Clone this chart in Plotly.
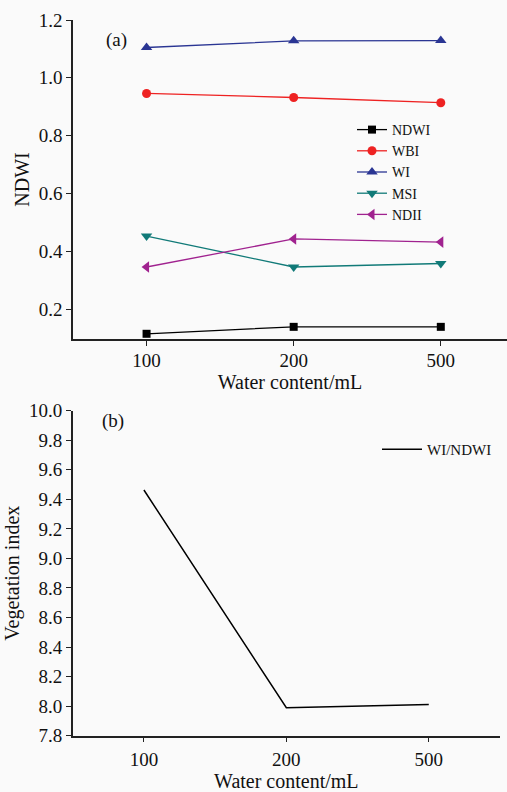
import plotly.graph_objects as go

categories = ["100", "200", "500"]
ndwi = [0.115, 0.139, 0.139]
wbi = [0.946, 0.932, 0.914]
wi = [1.105, 1.128, 1.129]
msi = [0.453, 0.346, 0.358]
ndii = [0.346, 0.443, 0.432]
wi_ndwi = [9.463, 7.989, 8.012]

W, H = 507, 792
def px(x):
    return x / W
def py(y):
    return 1 - y / H

FONT = "Liberation Serif, Times New Roman, serif"

fig = go.Figure()
series = [
    ("NDWI", ndwi, "#000000", "square", 8),
    ("WBI", wbi, "#ee2222", "circle", 9),
    ("WI", wi, "#2a3593", "triangle-up", 10),
    ("MSI", msi, "#117a78", "triangle-down", 10),
    ("NDII", ndii, "#a0228f", "triangle-left", 10),
]
for name, vals, col, sym, sz in series:
    fig.add_trace(go.Scatter(
        x=categories, y=vals, name=name, mode="lines+markers",
        line=dict(color=col, width=1.3),
        marker=dict(symbol=sym, size=sz, color=col),
        xaxis="x", yaxis="y", legend="legend"))

fig.add_trace(go.Scatter(
    x=categories, y=wi_ndwi, name="WI/NDWI", mode="lines",
    line=dict(color="#000000", width=1.5),
    xaxis="x2", yaxis="y2", legend="legend2"))

axis_common = dict(
    showline=True, linecolor="#222", linewidth=1.5, ticks="outside",
    ticklen=5, tickcolor="#222", tickwidth=1.2, showgrid=False, zeroline=False,
    automargin=False,
    tickfont=dict(family=FONT, size=19, color="#111"),
    title_font=dict(family=FONT, size=20, color="#111"), mirror=False)

fig.update_layout(
    width=W, height=H,
    margin=dict(l=0, r=0, t=0, b=0, autoexpand=False),
    paper_bgcolor="#fafafa", plot_bgcolor="#fafafa",
    xaxis=dict(axis_common, domain=[px(73), px(507)], type="category",
               range=[-0.5, 2.45], anchor="y", ticklabelstandoff=-2,
               title=dict(text="Water content/mL", standoff=2)),
    yaxis=dict(axis_common, domain=[py(339), py(20)], range=[0.097, 1.2],
               tickvals=[0.2, 0.4, 0.6, 0.8, 1.0, 1.2], tickformat=".1f",
               anchor="x", title=dict(text="NDWI", standoff=4)),
    xaxis2=dict(axis_common, domain=[px(72.7), px(500)], type="category",
                range=[-0.5, 2.5], anchor="y2", ticklabelstandoff=1,
                title=dict(text="Water content/mL", standoff=0)),
    yaxis2=dict(axis_common, domain=[py(735.7), py(410.7)], range=[7.8, 10.0],
                dtick=0.2, tickformat=".1f", anchor="x2",
                title=dict(text="Vegetation index", standoff=4)),
    legend=dict(x=px(352), y=py(114), xanchor="left", yanchor="top",
                bgcolor="rgba(0,0,0,0)", font=dict(family=FONT, size=14, color="#111"),
                tracegroupgap=0, itemwidth=30),
    legend2=dict(x=px(377), y=py(433), xanchor="left", yanchor="top", itemwidth=40,
                 bgcolor="rgba(0,0,0,0)", font=dict(family=FONT, size=15, color="#111")),
    annotations=[
        dict(text="(a)", x=px(116), y=py(40), xref="paper", yref="paper",
             xanchor="center", yanchor="middle",
             showarrow=False, font=dict(family=FONT, size=19, color="#111")),
        dict(text="(b)", x=px(113), y=py(421), xref="paper", yref="paper",
             xanchor="center", yanchor="middle",
             showarrow=False, font=dict(family=FONT, size=19, color="#111")),
    ],
)

fig.write_html("out.html", config={"displayModeBar": False},
               post_script="document.body.style.margin='0';document.body.style.overflow='hidden';")
